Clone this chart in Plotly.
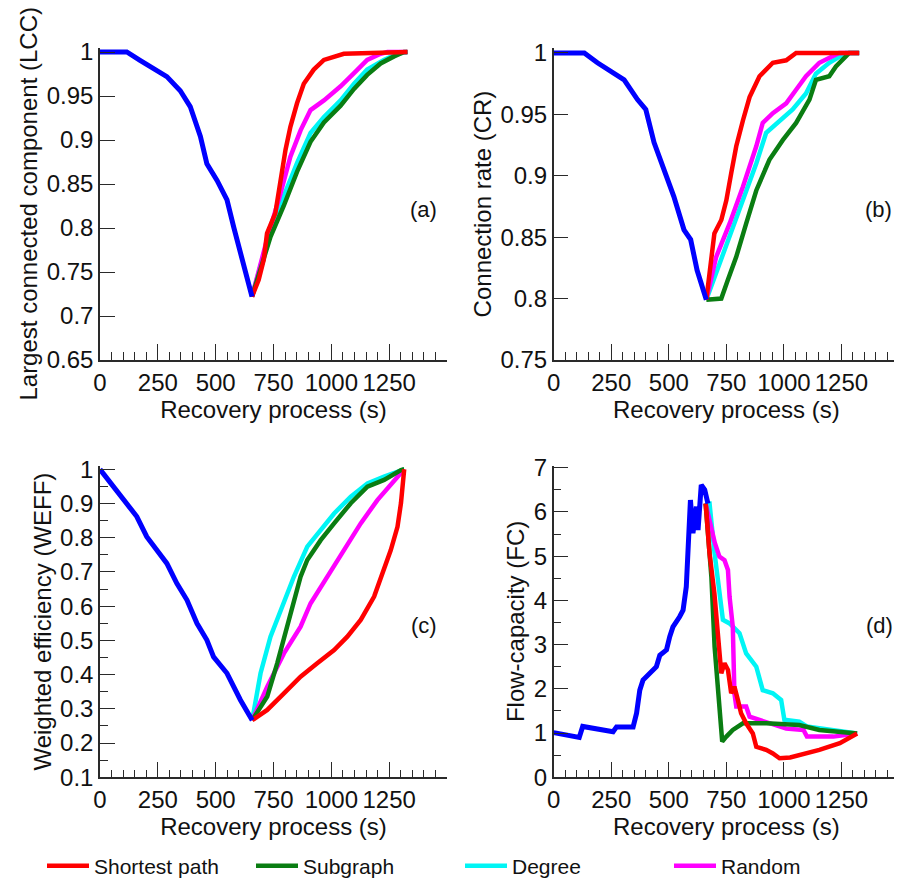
import plotly.graph_objects as go

# ---------------- data ----------------
# Panel (a): Largest connected component (LCC)
a_blue_x = [0, 116, 173, 231, 289, 347, 390, 434, 462, 506, 549, 578, 607, 636, 657]
a_blue_y = [1.0, 1.0, 0.9905, 0.981, 0.972, 0.956, 0.938, 0.904, 0.873, 0.854, 0.832, 0.801, 0.771, 0.745, 0.722]
a_red_x = [657, 686, 708, 722, 758, 780, 802, 823, 852, 881, 924, 968, 1054, 1329]
a_red_y = [0.722, 0.741, 0.764, 0.794, 0.817, 0.855, 0.889, 0.915, 0.942, 0.964, 0.980, 0.991, 0.998, 1.0]
a_mag_x = [657, 722, 780, 823, 867, 910, 968, 1040, 1098, 1155, 1213, 1242, 1329]
a_mag_y = [0.722, 0.787, 0.839, 0.881, 0.911, 0.934, 0.945, 0.961, 0.976, 0.991, 0.998, 1.0, 1.0]
a_cyan_x = [657, 737, 794, 852, 910, 968, 1040, 1098, 1155, 1227, 1286, 1329]
a_cyan_y = [0.722, 0.798, 0.836, 0.874, 0.908, 0.926, 0.945, 0.964, 0.980, 0.991, 0.998, 1.0]
a_green_x = [657, 737, 794, 852, 910, 968, 1040, 1098, 1155, 1213, 1271, 1314, 1329]
a_green_y = [0.722, 0.790, 0.825, 0.864, 0.898, 0.920, 0.939, 0.958, 0.974, 0.987, 0.995, 1.0, 1.0]

# Panel (b): Connection rate (CR)
b_blue_x = [0, 133, 190, 248, 306, 364, 400, 436, 479, 522, 566, 595, 623, 663]
b_blue_y = [1.0, 1.0, 0.992, 0.985, 0.978, 0.962, 0.954, 0.927, 0.905, 0.883, 0.856, 0.848, 0.823, 0.799]
b_red_x = [663, 685, 698, 728, 750, 771, 793, 822, 851, 894, 952, 1010, 1053, 1327]
b_red_y = [0.799, 0.837, 0.853, 0.864, 0.880, 0.902, 0.924, 0.945, 0.964, 0.981, 0.992, 0.994, 1.0, 1.0]
b_mag_x = [663, 706, 764, 822, 880, 908, 952, 1010, 1053, 1096, 1154, 1219, 1240, 1327]
b_mag_y = [0.799, 0.834, 0.861, 0.891, 0.924, 0.943, 0.951, 0.959, 0.970, 0.981, 0.992, 0.998, 1.0, 1.0]
b_cyan_x = [663, 706, 764, 822, 880, 923, 981, 1038, 1096, 1139, 1197, 1269, 1327]
b_cyan_y = [0.799, 0.821, 0.848, 0.880, 0.910, 0.935, 0.945, 0.954, 0.967, 0.983, 0.992, 1.0, 1.0]
b_green_x = [663, 728, 756, 793, 836, 880, 937, 995, 1053, 1111, 1139, 1197, 1226, 1284, 1327]
b_green_y = [0.799, 0.800, 0.815, 0.834, 0.861, 0.888, 0.913, 0.929, 0.943, 0.962, 0.978, 0.981, 0.989, 1.0, 1.0]

# Panel (c): Weighted efficiency (WEFF)
c_blue_x = [0, 58, 116, 159, 202, 246, 289, 332, 376, 419, 462, 491, 549, 607, 658]
c_blue_y = [1.0, 0.949, 0.901, 0.862, 0.803, 0.764, 0.725, 0.667, 0.618, 0.550, 0.501, 0.452, 0.404, 0.326, 0.267]
c_red_x = [658, 723, 795, 867, 939, 1012, 1069, 1127, 1185, 1228, 1257, 1286, 1301, 1315]
c_red_y = [0.267, 0.297, 0.345, 0.394, 0.433, 0.472, 0.511, 0.560, 0.628, 0.706, 0.764, 0.832, 0.901, 1.0]
c_mag_x = [658, 723, 795, 867, 910, 983, 1055, 1127, 1199, 1272, 1315]
c_mag_y = [0.267, 0.365, 0.462, 0.540, 0.608, 0.686, 0.764, 0.842, 0.910, 0.969, 1.0]
c_cyan_x = [658, 694, 737, 795, 838, 896, 954, 1012, 1084, 1156, 1228, 1301, 1315]
c_cyan_y = [0.267, 0.404, 0.511, 0.608, 0.686, 0.774, 0.823, 0.871, 0.920, 0.959, 0.979, 0.998, 1.0]
c_green_x = [658, 723, 766, 824, 867, 896, 954, 1012, 1084, 1156, 1228, 1301, 1315]
c_green_y = [0.267, 0.336, 0.433, 0.579, 0.686, 0.735, 0.793, 0.842, 0.901, 0.949, 0.969, 0.998, 1.0]

# Panel (d): Flow-capacity (FC)
d_blue_x = [0, 111, 126, 200, 258, 273, 345, 360, 374, 388, 417, 446, 461, 490, 504, 518, 547, 562,
            576, 583, 591, 594, 605, 620, 627, 641, 656, 670]
d_blue_y = [1.01, 0.90, 1.15, 1.07, 1.03, 1.14, 1.14, 1.45, 1.97, 2.20, 2.35, 2.50, 2.76, 2.88, 3.18, 3.40, 3.63, 3.78,
            4.31, 4.91, 5.74, 6.27, 5.52, 6.12, 5.59, 6.61, 6.50, 6.19]
d_red_x = [660, 677, 698, 713, 728, 742, 757, 771, 785, 800, 814, 836, 865, 880, 923, 952, 981, 1027, 1154, 1243, 1318]
d_red_y = [6.19, 5.06, 4.16, 3.26, 2.35, 2.58, 2.43, 1.90, 2.05, 1.75, 1.45, 1.22, 0.99, 0.69, 0.62, 0.54, 0.43, 0.45, 0.62, 0.77, 0.99]
d_mag_x = [660, 700, 720, 742, 757, 764, 778, 785, 793, 836, 851, 894, 1010, 1085, 1100, 1215, 1318]
d_mag_y = [6.19, 5.30, 4.99, 4.91, 4.69, 4.08, 3.40, 1.90, 1.60, 1.60, 1.37, 1.30, 1.10, 1.07, 0.92, 0.92, 0.99]
d_cyan_x = [660, 677, 699, 720, 735, 764, 807, 836, 880, 908, 952, 988, 1002, 1067, 1099, 1318]
d_cyan_y = [6.19, 6.19, 5.06, 4.16, 3.56, 3.48, 3.26, 2.80, 2.50, 1.97, 1.90, 1.75, 1.30, 1.26, 1.15, 0.99]
d_green_x = [660, 685, 699, 713, 732, 750, 778, 822, 923, 1067, 1154, 1318]
d_green_y = [6.19, 4.53, 2.95, 1.90, 0.81, 0.92, 1.07, 1.22, 1.22, 1.18, 1.07, 0.99]

# axis ticks / labels
x_tick_vals = [0, 250, 500, 750, 1000, 1250, 1500]
x_tick_text = ["0", "250", "500", "750", "1000", "1250", ""]
a_ytick_vals = [0.65, 0.7, 0.75, 0.8, 0.85, 0.9, 0.95, 1.0]
a_ytick_text = ["0.65", "0.7", "0.75", "0.8", "0.85", "0.9", "0.95", "1"]
b_ytick_vals = [0.75, 0.8, 0.85, 0.9, 0.95, 1.0]
b_ytick_text = ["0.75", "0.8", "0.85", "0.9", "0.95", "1"]
c_ytick_vals = [0.1, 0.2, 0.3, 0.4, 0.5, 0.6, 0.7, 0.8, 0.9, 1.0]
c_ytick_text = ["0.1", "0.2", "0.3", "0.4", "0.5", "0.6", "0.7", "0.8", "0.9", "1"]
d_ytick_vals = [0, 1, 2, 3, 4, 5, 6, 7]
d_ytick_text = ["0", "1", "2", "3", "4", "5", "6", "7"]

y_titles = ["Largest connected component (LCC)", "Connection rate (CR)",
            "Weighted efficiency (WEFF)", "Flow-capacity (FC)"]
panel_labels = ["(a)", "(b)", "(c)", "(d)"]
x_title = "Recovery process (s)"

series_names = ["Shortest path", "Subgraph", "Degree", "Random"]
colors = {"Shortest path": "#ff0000", "Subgraph": "#0a7d12", "Degree": "#00f5f5", "Random": "#ff00ff"}
BLUE = "#0000ff"

FONT = "Liberation Sans, Arial, sans-serif"
AX = "#2a2a2a"
TICK_FS = 24
TITLE_FS = 24

# The page body adds an 8 px offset; the figure is sized so the picture lines up.
W, H = 894, 870
OFF = 8


def fx(px):
    return (px - OFF) / W


def fy(py):
    return 1 - (py - OFF) / H


fig = go.Figure()

panels = [
    ("x", "y", (a_blue_x, a_blue_y), {"Shortest path": (a_red_x, a_red_y), "Subgraph": (a_green_x, a_green_y),
                                      "Degree": (a_cyan_x, a_cyan_y), "Random": (a_mag_x, a_mag_y)}),
    ("x2", "y2", (b_blue_x, b_blue_y), {"Shortest path": (b_red_x, b_red_y), "Subgraph": (b_green_x, b_green_y),
                                        "Degree": (b_cyan_x, b_cyan_y), "Random": (b_mag_x, b_mag_y)}),
    ("x3", "y3", (c_blue_x, c_blue_y), {"Shortest path": (c_red_x, c_red_y), "Subgraph": (c_green_x, c_green_y),
                                        "Degree": (c_cyan_x, c_cyan_y), "Random": (c_mag_x, c_mag_y)}),
    ("x4", "y4", (d_blue_x, d_blue_y), {"Shortest path": (d_red_x, d_red_y), "Subgraph": (d_green_x, d_green_y),
                                        "Degree": (d_cyan_x, d_cyan_y), "Random": (d_mag_x, d_mag_y)}),
]

draw_order = ["Degree", "Random", "Subgraph", "Shortest path"]
legend_rank = {name: i for i, name in enumerate(series_names)}
for pi, (xa, ya, blue, rec) in enumerate(panels):
    for name in draw_order:
        xs, ys = rec[name]
        fig.add_trace(go.Scatter(x=xs, y=ys, mode="lines", name=name, xaxis=xa, yaxis=ya,
                                 line=dict(color=colors[name], width=4.5),
                                 legendgroup=name, showlegend=(pi == 0),
                                 legendrank=legend_rank[name]))
    fig.add_trace(go.Scatter(x=blue[0], y=blue[1], mode="lines", xaxis=xa, yaxis=ya,
                             line=dict(color=BLUE, width=5), showlegend=False, name="Damage"))


def xaxis(domain, anchor):
    return dict(domain=domain, anchor=anchor, range=[0, 1500], showline=True, linecolor=AX, linewidth=1.5,
                ticks="inside", ticklen=16, tickwidth=1.3, tickcolor=AX,
                tickmode="array", tickvals=x_tick_vals, ticktext=x_tick_text,
                minor=dict(ticks="inside", ticklen=8, tickwidth=1, tickcolor=AX, dtick=50, tick0=0),
                showgrid=False, zeroline=False, tickfont=dict(size=TICK_FS, color="#111"),
                title=dict(text=x_title, font=dict(size=TITLE_FS, color="#111"), standoff=2))


def yaxis(domain, anchor, rng, vals, text, title, minor_dtick=None):
    d = dict(domain=domain, anchor=anchor, range=rng, showline=True, linecolor=AX, linewidth=1.5,
             ticks="inside", ticklen=15, tickwidth=1.3, tickcolor=AX,
             tickmode="array", tickvals=vals, ticktext=text,
             showgrid=False, zeroline=False, tickfont=dict(size=TICK_FS, color="#111"),
             title=dict(text=title, font=dict(size=TITLE_FS, color="#111"), standoff=2))
    if minor_dtick:
        d["minor"] = dict(ticks="inside", ticklen=8, tickwidth=1, tickcolor=AX, dtick=minor_dtick, tick0=0)
    return d


xd_left = [fx(100), fx(447)]
xd_right = [fx(553.7), fx(899)]
yd_top_a = [fy(360), fy(47.6)]
yd_top_b = [fy(360), fy(48)]
yd_bot_c = [fy(777.3), fy(465.9)]
yd_bot_d = [fy(777.3), fy(465.5)]

fig.update_layout(
    width=W, height=H,
    margin=dict(l=0, r=0, t=0, b=0, autoexpand=False),
    paper_bgcolor="white", plot_bgcolor="white",
    font=dict(family=FONT, color="#111"),
    xaxis=xaxis(xd_left, "y"),
    yaxis=yaxis(yd_top_a, "x", [0.65, 1.005], a_ytick_vals, a_ytick_text, y_titles[0]),
    xaxis2=xaxis(xd_right, "y2"),
    yaxis2=yaxis(yd_top_b, "x2", [0.75, 1.004], b_ytick_vals, b_ytick_text, y_titles[1]),
    xaxis3=xaxis(xd_left, "y3"),
    yaxis3=yaxis(yd_bot_c, "x3", [0.1, 1.01], c_ytick_vals, c_ytick_text, y_titles[2], minor_dtick=0.05),
    xaxis4=xaxis(xd_right, "y4"),
    yaxis4=yaxis(yd_bot_d, "x4", [0, 7.05], d_ytick_vals, d_ytick_text, y_titles[3], minor_dtick=0.5),
    legend=dict(orientation="h", x=fx(42), xanchor="left", y=fy(866), yanchor="middle",
                font=dict(size=21, color="#111"), entrywidth=152, bgcolor="rgba(0,0,0,0)",
                itemwidth=42, tracegroupgap=0),
    showlegend=True,
)

label_pos = [(423, 209), (878, 209), (424, 625), (879, 625)]
for lab, (px, py) in zip(panel_labels, label_pos):
    fig.add_annotation(text=lab, x=fx(px), y=fy(py), xref="paper", yref="paper",
                       showarrow=False, font=dict(size=22, color="#111"), xanchor="center", yanchor="middle")

fig.write_html("out.html")
